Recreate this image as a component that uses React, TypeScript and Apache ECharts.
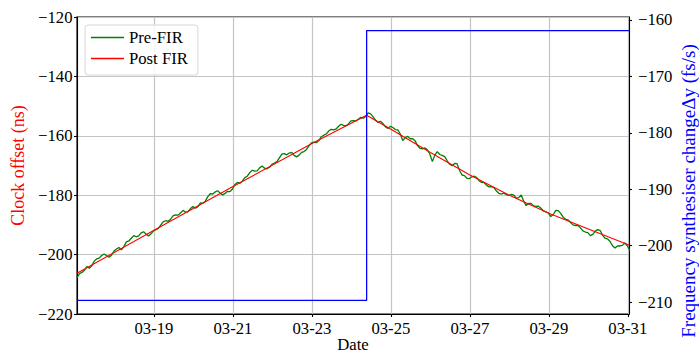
import React, { useEffect, useRef } from 'react';
import * as echarts from 'echarts';

// ---- data (x = day of March) ----
const xTickDays = [19, 21, 23, 25, 27, 29, 31];
const rightTicks = [-210, -200, -190, -180, -170, -160];

const preFirStartDay = 17.05;
const preFirStepDays = 0.0625; // 1.5 hours
const preFirValues = [
  -207.8, -206.4, -206.0, -205.3, -204.0, -204.6, -203.8, -202.2, -201.4, -201.2,
  -200.3, -199.8, -200.4, -200.9, -200.2, -198.8, -198.1, -197.6, -198.4, -197.3,
  -195.7, -195.4, -194.5, -193.6, -194.0, -193.7, -192.7, -192.3, -193.1, -193.7,
  -193.0, -192.0, -191.6, -191.2, -190.0, -188.9, -188.6, -188.8, -188.0, -186.9,
  -186.6, -186.7, -185.9, -185.1, -185.8, -185.5, -184.5, -183.8, -184.4, -183.9,
  -182.6, -182.7, -182.0, -180.5, -179.5, -179.6, -178.9, -178.5, -179.3, -179.9,
  -179.4, -178.7, -178.8, -177.9, -176.4, -175.7, -176.0, -175.3, -174.1, -173.6,
  -172.4, -171.6, -171.9, -171.8, -170.8, -170.2, -170.9, -171.1, -170.6, -169.6,
  -169.2, -168.7, -167.4, -166.2, -166.0, -166.4, -165.8, -165.6, -166.6, -167.1,
  -166.5, -165.6, -165.3, -164.6, -163.4, -162.4, -162.1, -162.3, -161.6, -160.3,
  -159.8, -159.4, -158.4, -157.8, -158.0, -157.7, -156.8, -156.1, -156.5, -156.6,
  -156.0, -155.0, -154.9, -155.0, -154.4, -153.8, -154.1, -153.5, -152.3, -152.6,
  -153.6, -154.8, -155.5, -155.1, -155.9, -157.0, -157.5, -156.8, -157.2, -157.9,
  -158.0, -159.4, -161.6, -160.6, -160.2, -161.0, -161.0, -161.7, -163.3, -164.2,
  -164.4, -164.1, -164.7, -166.2, -168.7, -166.5, -165.3, -166.3, -166.6, -167.0,
  -168.4, -169.6, -170.1, -169.3, -169.4, -171.6, -173.2, -173.4, -174.3, -174.4,
  -173.8, -173.6, -174.1, -175.2, -175.7, -175.8, -176.7, -177.2, -177.1, -177.5,
  -178.6, -179.4, -179.6, -179.3, -179.8, -180.1, -179.7, -180.0, -181.0, -180.8,
  -179.9, -182.0, -183.5, -182.8, -182.8, -183.6, -183.8, -183.7, -184.4, -185.3,
  -185.6, -186.0, -187.2, -186.5, -185.1, -185.2, -186.1, -187.4, -188.1, -188.3,
  -189.2, -190.0, -190.2, -190.2, -191.0, -192.0, -192.4, -192.6, -193.6, -193.2,
  -192.1, -191.6, -191.9, -193.5, -194.5, -194.7, -195.6, -197.0, -197.8, -197.1,
  -197.1, -196.9, -196.1, -197.0, -198.6,
];

const postFirDays = [17.05, 19, 21, 23, 24.385, 25, 26, 27, 28, 29, 30, 31.03];
const postFirValues = [-206.3, -191.8, -177.1, -162.6, -153.1, -157.8, -165.6, -173.2, -180.0, -186.1, -191.4, -196.8];

const freqDays = [17.05, 24.385, 31.03];
const freqValues = [-209.7, -161.9, -161.9];

const X_MIN = 17.05;
const X_MAX = 31.03;

const FONT = '"Liberation Serif", "Times New Roman", Times, serif';
const FS = 16.7;
const minus = (v: number) => String(v).replace('-', '\u2212');

export default function App() {
  const ref = useRef<HTMLDivElement>(null);
  useEffect(() => {
    const chart = echarts.init(ref.current!, null, { renderer: 'svg' });
    const preFir = preFirValues.map((v, i) => [preFirStartDay + i * preFirStepDays, v]);
    const postFir = postFirDays.map((d, i) => [d, postFirValues[i]]);
    const freq = freqDays.map((d, i) => [d, freqValues[i]]);
    const option: any = {
      animation: false,
      backgroundColor: '#ffffff',
      textStyle: { fontFamily: FONT },
      grid: {
        left: 77, right: 70, top: 17, bottom: 42,
        show: true, borderColor: '#000', borderWidth: 1.1, backgroundColor: 'transparent',
        containLabel: false, outerBoundsMode: 'none',
      },
      legend: {
        orient: 'vertical', left: 85, top: 25,
        padding: [4, 10, 8, 6], itemGap: 4, itemWidth: 33, itemHeight: 1.6,
        backgroundColor: 'rgba(255,255,255,0.85)', borderColor: '#d6d6d6', borderWidth: 1, borderRadius: 3,
        textStyle: { fontFamily: FONT, fontSize: FS, color: '#000' },
        data: [{ name: 'Pre-FIR', icon: 'rect' }, { name: 'Post FIR', icon: 'rect' }],
      },
      xAxis: {
        type: 'value', min: X_MIN, max: X_MAX,
        name: 'Date', nameLocation: 'middle', nameGap: 22, nameMoveOverlap: false,
        nameTextStyle: { fontFamily: FONT, fontSize: FS, color: '#000', lineHeight: 17 },
        axisLine: { show: true, lineStyle: { color: '#000', width: 1.1 } },
        axisTick: { show: true, length: 3, customValues: xTickDays, lineStyle: { color: '#000', width: 1.1 } },
        axisLabel: {
          customValues: xTickDays, margin: 6, color: '#000', fontFamily: FONT, fontSize: FS,
          formatter: (v: number) => '03-' + Math.round(v),
        },
        splitLine: { show: true, lineStyle: { color: '#c4c4c4', width: 1.2 } },
      },
      yAxis: [
        {
          type: 'value', min: -220, max: -120, interval: 20, position: 'left',
          name: 'Clock offset (ns)', nameLocation: 'middle', nameGap: 47,
          nameTextStyle: { fontFamily: FONT, fontSize: 18, color: '#ff0000' },
          axisLine: { show: true, lineStyle: { color: '#000', width: 1.1 } },
          axisTick: { show: true, length: 3, lineStyle: { color: '#000', width: 1.1 } },
          axisLabel: { margin: 4.5, color: '#000', fontFamily: FONT, fontSize: FS, formatter: (v: number) => minus(v) },
          splitLine: { show: true, lineStyle: { color: '#c4c4c4', width: 1.2 } },
        },
        {
          type: 'value', min: -212.1, max: -159.5, position: 'right',
          axisLine: { show: true, lineStyle: { color: '#000', width: 1.1 } },
          axisTick: { show: true, length: 3, customValues: rightTicks, lineStyle: { color: '#000', width: 1.1 } },
          axisLabel: { customValues: rightTicks, margin: 9, color: '#000', fontFamily: FONT, fontSize: FS, formatter: (v: number) => minus(v) },
          splitLine: { show: false },
        },
      ],
      graphic: [
        {
          type: 'text', x: 688, y: 191, rotation: Math.PI / 2,
          style: {
            text: 'Frequency synthesiser change\u0394y (fs/s)',
            fill: '#0000ff', fontFamily: FONT, fontSize: 19,
            align: 'center', verticalAlign: 'middle',
          },
        },
      ],
      series: [
        {
          name: 'Pre-FIR', type: 'line', data: preFir, showSymbol: false, symbol: 'none',
          color: '#008000', lineStyle: { color: '#008000', width: 1.3 }, z: 2,
        },
        {
          name: 'Post FIR', type: 'line', data: postFir, showSymbol: false, symbol: 'none',
          color: '#ff0000', lineStyle: { color: '#ff0000', width: 1.1 }, z: 3,
        },
        {
          name: 'Frequency', type: 'line', yAxisIndex: 1, data: freq, step: 'end', showSymbol: false, symbol: 'none',
          color: '#0000ff', lineStyle: { color: '#0000ff', width: 1.3 }, z: 4,
        },
      ],
    };
    chart.setOption(option);
    return () => chart.dispose();
  }, []);
  return <div ref={ref} style={{ position: 'fixed', left: 0, top: 0, width: 699, height: 356 }} />;
}
